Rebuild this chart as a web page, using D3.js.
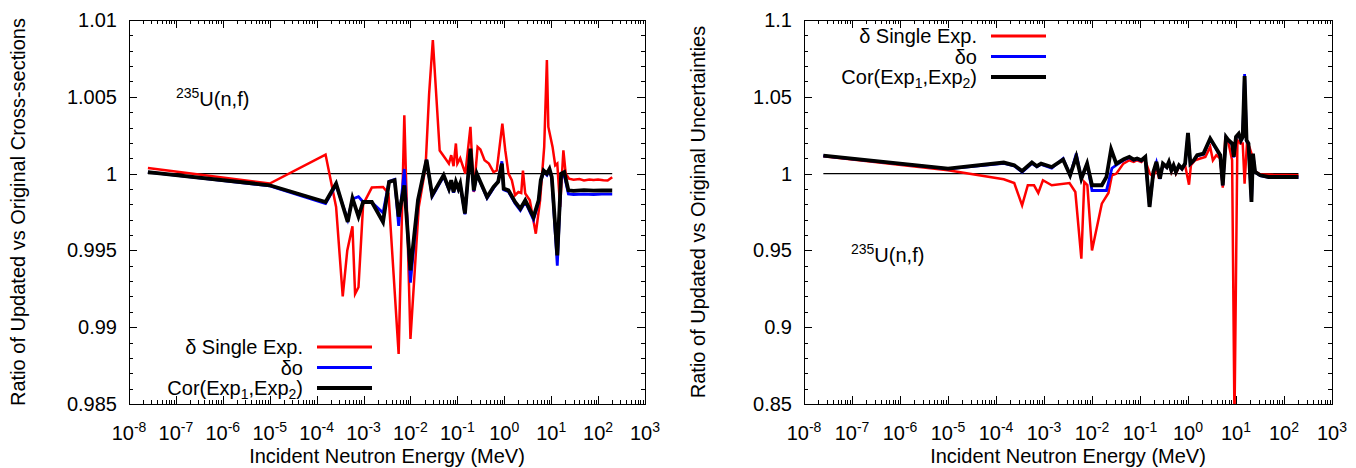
<!DOCTYPE html>
<html>
<head>
<meta charset="utf-8">
<script src="https://cdn.jsdelivr.net/npm/d3@7"></script>
<style>
body { margin: 0; background: #fff; }
svg { font-family: "Liberation Sans", Arial, sans-serif; }
</style>
</head>
<body>
<script>
// energies in MeV, values are ratios
var leftSingle = [[2.53e-8,1.00037],[1.0e-5,0.99935],[1.55e-4,1.00124],[2.6e-4,0.99783],[3.6e-4,0.9920],[4.5e-4,0.9950],[5.8e-4,0.99657],[6.6e-4,0.99217],[7.8e-4,0.9926],[9.8e-4,0.9980],[1.5e-3,0.99909],[2.6e-3,0.99913],[3.4e-3,0.99870],[5.6e-3,0.98826],[7.4e-3,1.0038],[1.0e-2,0.98924],[1.5e-2,0.9978],[2.1e-2,1.00043],[2.5e-2,1.0052],[3.0e-2,1.0087],[4.2e-2,1.0015],[5.5e-2,1.0010],[6.6e-2,1.00065],[7.4e-2,1.0012],[8.3e-2,1.00048],[9.3e-2,1.00196],[0.10,1.00065],[0.115,1.0010],[0.148,1.0],[0.19,1.00304],[0.224,0.9988],[0.27,1.00174],[0.31,1.00157],[0.38,1.00087],[0.47,1.00065],[0.59,1.0001],[0.69,1.0002],[0.91,1.00326],[1.05,1.00152],[1.23,1.0],[1.45,0.99957],[1.7,0.99859],[2.0,0.9988],[2.3,0.99874],[2.5,1.0002],[2.8,0.9987],[3.5,0.99826],[4.7,0.99609],[5.8,0.99826],[7.1,1.00174],[8.1,1.00739],[8.7,1.00304],[10.7,1.00174],[12.2,1.00054],[13.5,1.00065],[15.5,0.99783],[18.2,1.00152],[20.4,1.0],[24,0.99967],[30,0.9996],[40,0.99964],[50,0.99956],[65,0.99962],[80,0.99958],[100,0.99961],[130,0.99957],[160,0.99955],[180,0.99966],[200,0.99976]];
var leftDeltaO = [[2.53e-8,1.0001],[1.0e-5,0.9992],[1.55e-4,0.99805],[2.6e-4,0.99925],[4.6e-4,0.9970],[5.8e-4,0.99835],[7.8e-4,0.9985],[9.8e-4,0.99815],[1.5e-3,0.99812],[2.6e-3,0.99745],[3.5e-3,0.9995],[4.6e-3,0.99962],[5.6e-3,0.9966],[7.4e-3,1.0003],[1.0e-2,0.9929],[1.45e-2,0.9982],[2.2e-2,1.0009],[2.9e-2,0.9985],[5.1e-2,0.9998],[6.6e-2,0.99895],[7.4e-2,0.9995],[8.3e-2,0.99875],[9.3e-2,0.9994],[0.105,0.99895],[0.115,0.9993],[0.145,0.99735],[0.19,1.0015],[0.224,0.99885],[0.26,0.99995],[0.31,0.9994],[0.43,0.9984],[0.59,0.99905],[0.74,0.9995],[0.89,1.0008],[0.97,0.99895],[1.23,0.99882],[1.7,0.99805],[2.2,0.9976],[2.8,0.99815],[4.2,0.997],[5.4,0.99815],[6.0,0.9995],[6.9,1.0001],[8.1,0.9999],[9.2,1.0002],[10.3,0.9997],[13.5,0.9940],[16.3,0.9998],[19,0.9999],[23.3,0.99868],[30,0.99864],[50,0.99866],[80,0.99864],[120,0.99866],[200,0.99866]];
var leftCor = [[2.53e-8,1.0001],[1.0e-5,0.99924],[1.55e-4,0.99815],[2.6e-4,0.99935],[4.6e-4,0.99685],[5.8e-4,0.9984],[7.8e-4,0.9972],[9.8e-4,0.99815],[1.5e-3,0.99815],[2.6e-3,0.99685],[3.5e-3,0.99946],[4.6e-3,0.99957],[5.6e-3,0.9972],[7.4e-3,0.99924],[1.0e-2,0.9937],[1.45e-2,0.9983],[2.2e-2,1.0009],[2.9e-2,0.9986],[5.1e-2,0.9999],[6.6e-2,0.99902],[7.4e-2,0.99957],[8.3e-2,0.9988],[9.3e-2,0.99946],[0.105,0.99902],[0.115,0.99935],[0.145,0.9974],[0.19,1.00163],[0.224,0.99891],[0.26,1.0],[0.31,0.99946],[0.43,0.99848],[0.59,0.99913],[0.74,0.99946],[0.89,1.00065],[0.97,0.99902],[1.23,0.99891],[1.7,0.99815],[2.2,0.99772],[2.8,0.99826],[4.2,0.99717],[5.4,0.99826],[6.0,0.99957],[6.9,1.0002],[8.1,1.0],[9.2,1.0003],[10.3,0.99978],[13.5,0.99467],[16.3,1.0],[19,1.0001],[23.3,0.99891],[30,0.99888],[50,0.99892],[80,0.99889],[120,0.99891],[200,0.9989]];

var rightSingle = [[2.53e-8,1.0113],[1.0e-5,1.0022],[1.45e-4,0.9963],[2.4e-4,0.9939],[3.5e-4,0.9793],[4.6e-4,0.9924],[6.2e-4,0.9924],[7.6e-4,0.9874],[9.5e-4,0.9957],[1.45e-3,0.9924],[3.4e-3,0.9939],[4.5e-3,0.9880],[6.0e-3,0.9446],[6.9e-3,0.9946],[8.0e-3,0.9925],[1.0e-2,0.9500],[1.6e-2,0.9804],[2.2e-2,0.9874],[2.6e-2,0.9989],[3.2e-2,1.0],[4.5e-2,1.0065],[6.0e-2,1.0087],[7.4e-2,1.0076],[8.7e-2,1.0087],[0.107,1.0076],[0.125,1.0098],[0.16,1.0],[0.19,0.9978],[0.22,1.0043],[0.25,0.9967],[0.30,1.0054],[0.36,1.0043],[0.40,1.0065],[0.45,1.0011],[0.50,1.0054],[0.56,1.0],[0.65,1.0043],[0.75,1.0033],[0.87,1.0054],[1.05,0.9928],[1.15,1.0054],[1.4,1.0087],[1.8,1.0098],[2.3,1.0109],[2.9,1.0174],[3.3,1.0087],[3.9,1.012],[4.7,1.0098],[5.3,0.9909],[6.0,1.0243],[7.0,1.0196],[8.3,1.0087],[9.3,0.84],[10.7,1.0217],[12.3,1.0196],[13.8,1.0196],[15.1,0.9935],[17.0,1.0206],[19.0,1.0174],[21,1.013],[23.4,1.002],[32,0.9996],[60,0.9992],[200,0.9989]];
var rightDeltaO = [[2.53e-8,1.0115],[1.0e-5,1.0031],[1.45e-4,1.0066],[2.4e-4,1.005],[3.5e-4,1.001],[5.6e-4,1.0066],[7.1e-4,1.0044],[8.7e-4,1.006],[1.45e-3,1.0035],[2.5e-3,1.0098],[3.5e-3,0.9989],[4.7e-3,1.013],[6.0e-3,0.9967],[7.9e-3,1.0065],[1.0e-2,0.989],[1.6e-2,0.989],[2.0e-2,0.989],[2.6e-2,1.0035],[3.2e-2,1.0055],[4.6e-2,1.0088],[6.0e-2,1.0104],[7.4e-2,1.0087],[8.7e-2,1.0094],[0.107,1.0083],[0.129,1.0105],[0.158,0.9783],[0.19,1.0008],[0.22,1.0072],[0.26,0.9965],[0.30,1.0062],[0.36,1.004],[0.40,1.0072],[0.45,1.002],[0.50,1.005],[0.56,1.0009],[0.65,1.005],[0.75,1.003],[0.87,1.006],[1.0,1.026],[1.12,1.0062],[1.32,1.0084],[1.55,1.0116],[2.1,1.0126],[2.9,1.0224],[3.7,1.017],[4.7,1.0116],[5.3,0.9924],[6.2,1.0236],[7.0,1.0213],[8.3,1.0192],[9.0,1.0105],[10.0,1.0236],[11.4,1.0256],[12.7,1.0213],[13.8,1.0236],[15.1,1.0648],[16.6,1.0213],[18.2,1.0192],[21,0.9815],[22.6,1.0126],[25,1.0009],[32,0.9987],[48,0.9976],[200,0.9976]];
var rightCor = [[2.53e-8,1.0117],[1.0e-5,1.0033],[1.45e-4,1.0072],[2.4e-4,1.0054],[3.5e-4,1.0017],[5.6e-4,1.0072],[7.1e-4,1.0048],[8.7e-4,1.0065],[1.45e-3,1.0043],[2.5e-3,1.0091],[3.5e-3,0.9989],[4.7e-3,1.011],[6.0e-3,0.9967],[7.9e-3,1.0065],[1.0e-2,0.9924],[1.6e-2,0.9924],[2.0e-2,0.9978],[2.5e-2,1.0159],[3.2e-2,1.0065],[4.6e-2,1.0093],[6.0e-2,1.0109],[7.4e-2,1.0091],[8.7e-2,1.0098],[0.107,1.0087],[0.129,1.0109],[0.158,0.9783],[0.19,1.0011],[0.22,1.0076],[0.26,0.9967],[0.30,1.0065],[0.36,1.0043],[0.40,1.0076],[0.45,1.0022],[0.50,1.0054],[0.56,1.0011],[0.65,1.0054],[0.75,1.0033],[0.87,1.0065],[1.0,1.0265],[1.12,1.0065],[1.32,1.0087],[1.55,1.012],[2.1,1.013],[2.9,1.0228],[3.7,1.0174],[4.7,1.012],[5.3,0.9924],[6.2,1.0239],[7.0,1.0217],[8.3,1.0196],[9.0,1.0109],[10.0,1.0239],[11.4,1.026],[12.7,1.0217],[13.8,1.0239],[15.1,1.0635],[16.6,1.0217],[18.2,1.0196],[21,0.9815],[22.6,1.013],[25,1.0011],[32,0.9989],[48,0.9978],[200,0.9978]];

var refRange = [2.53e-8, 200];
var xTickExp = [-8, -7, -6, -5, -4, -3, -2, -1, 0, 1, 2, 3];
var leftYTicks = [0.985, 0.99, 0.995, 1, 1.005, 1.01];
var rightYTicks = [0.85, 0.9, 0.95, 1, 1.05, 1.1];
var seriesNames = ['single', 'deltaO', 'cor'];
var seriesColors = ['#ff0000', '#0000ff', '#000000'];
var seriesWidths = [2.5, 2.8, 3.8];

var W = 1356, H = 468;
var FS = 20, FS_SMALL = 14;
var svg = d3.select('body').append('svg')
	.attr('width', W)
	.attr('height', H)
	.style('background-color', '#fff');

var panels = [
	{id: 'l', left: 129, right: 645, top: 20, bottom: 404, yDomain: [0.985, 1.01], yTicks: leftYTicks, yMinor: 0.001,
	 yTitle: 'Ratio of Updated vs Original Cross-sections', yTitleX: 25,
	 data: [leftSingle, leftDeltaO, leftCor], legX: 303, legY: 347, labX: 176, labY: 106},
	{id: 'r', left: 804, right: 1332, top: 20, bottom: 404, yDomain: [0.85, 1.1], yTicks: rightYTicks, yMinor: 0.01,
	 yTitle: 'Ratio of Updated vs Original Uncertainties', yTitleX: 705,
	 data: [rightSingle, rightDeltaO, rightCor], legX: 977, legY: 36, labX: 851, labY: 262}
];

panels.forEach(drawPanel);

function drawPanel(p) {
	var x = d3.scaleLog().domain([1e-8, 1e3]).range([p.left, p.right]);
	var y = d3.scaleLinear().domain(p.yDomain).range([p.bottom, p.top]);
	var g = svg.append('g');

	g.append('clipPath').attr('id', 'clip-' + p.id)
		.append('rect')
		.attr('x', p.left).attr('y', p.top)
		.attr('width', p.right - p.left).attr('height', p.bottom - p.top);

	// ticks, mirrored on all sides, pointing inward
	var majorX = xTickExp.map(function(e){ return Math.pow(10, e); });
	var minorX = [];
	xTickExp.slice(0, -1).forEach(function(e){
		for (var m = 2; m <= 9; m++) minorX.push(m * Math.pow(10, e));
	});
	var minorY = d3.range(p.yDomain[0], p.yDomain[1] + p.yMinor / 2, p.yMinor);

	var ticks = g.append('g').attr('stroke', '#000').attr('stroke-width', 1);
	majorX.forEach(function(v){
		var xx = Math.round(x(v)) + 0.5;
		ticks.append('line').attr('x1', xx).attr('x2', xx).attr('y1', p.bottom).attr('y2', p.bottom - 8);
		ticks.append('line').attr('x1', xx).attr('x2', xx).attr('y1', p.top).attr('y2', p.top + 8);
	});
	minorX.forEach(function(v){
		var xx = Math.round(x(v)) + 0.5;
		ticks.append('line').attr('x1', xx).attr('x2', xx).attr('y1', p.bottom).attr('y2', p.bottom - 4);
		ticks.append('line').attr('x1', xx).attr('x2', xx).attr('y1', p.top).attr('y2', p.top + 4);
	});
	minorY.forEach(function(v){
		var yy = Math.round(y(v)) + 0.5;
		ticks.append('line').attr('x1', p.left).attr('x2', p.left + 4).attr('y1', yy).attr('y2', yy);
		ticks.append('line').attr('x1', p.right).attr('x2', p.right - 4).attr('y1', yy).attr('y2', yy);
	});
	p.yTicks.forEach(function(v){
		var yy = Math.round(y(v)) + 0.5;
		ticks.append('line').attr('x1', p.left).attr('x2', p.left + 8).attr('y1', yy).attr('y2', yy);
		ticks.append('line').attr('x1', p.right).attr('x2', p.right - 8).attr('y1', yy).attr('y2', yy);
	});

	// y tick labels
	g.selectAll('.ylab').data(p.yTicks).enter().append('text')
		.attr('x', p.left - 12)
		.attr('y', function(d){ return y(d) + 7; })
		.attr('text-anchor', 'end')
		.attr('font-size', FS)
		.text(function(d){ return String(d); });

	// x tick labels 10^n
	xTickExp.forEach(function(e){
		var t = g.append('text')
			.attr('x', x(Math.pow(10, e)))
			.attr('y', p.bottom + 36)
			.attr('text-anchor', 'middle')
			.attr('font-size', FS);
		t.append('tspan').text('10');
		t.append('tspan').attr('font-size', FS_SMALL).attr('dy', -8).text(String(e));
	});

	// axis titles
	g.append('text')
		.attr('x', (p.left + p.right) / 2)
		.attr('y', 463)
		.attr('text-anchor', 'middle')
		.attr('font-size', FS)
		.text('Incident Neutron Energy (MeV)');
	g.append('text')
		.attr('transform', 'translate(' + p.yTitleX + ',' + ((p.top + p.bottom) / 2) + ') rotate(-90)')
		.attr('text-anchor', 'middle')
		.attr('font-size', FS)
		.text(p.yTitle);

	// reference line at 1
	g.append('line')
		.attr('x1', x(refRange[0])).attr('x2', x(refRange[1]))
		.attr('y1', y(1)).attr('y2', y(1))
		.attr('stroke', '#000').attr('stroke-width', 1.4);

	// series
	var line = d3.line()
		.x(function(d){ return x(d[0]); })
		.y(function(d){ return y(d[1]); });
	var lines = g.append('g').attr('clip-path', 'url(#clip-' + p.id + ')');
	p.data.forEach(function(s, i){
		lines.append('path')
			.datum(s)
			.attr('class', seriesNames[i])
			.attr('fill', 'none')
			.attr('stroke', seriesColors[i])
			.attr('stroke-width', seriesWidths[i])
			.attr('stroke-linejoin', 'miter')
			.attr('d', line);
	});

	// frame
	g.append('rect')
		.attr('x', p.left + 0.5).attr('y', p.top + 0.5)
		.attr('width', p.right - p.left).attr('height', p.bottom - p.top)
		.attr('fill', 'none').attr('stroke', '#000').attr('stroke-width', 1);

	// reaction label
	var lab = g.append('text').attr('x', p.labX).attr('y', p.labY).attr('font-size', FS);
	lab.append('tspan').attr('font-size', FS_SMALL).attr('dy', -8).text('235');
	lab.append('tspan').attr('dy', 8).text('U(n,f)');

	// legend
	var legRows = [
		function(t){ t.append('tspan').text('\u03b4 Single Exp.'); },
		function(t){ t.append('tspan').text('\u03b4o'); },
		function(t){
			t.append('tspan').text('Cor(Exp');
			t.append('tspan').attr('font-size', FS_SMALL).attr('dy', 4).text('1');
			t.append('tspan').attr('dy', -4).text(',Exp');
			t.append('tspan').attr('font-size', FS_SMALL).attr('dy', 4).text('2');
			t.append('tspan').attr('dy', -4).text(')');
		}
	];
	legRows.forEach(function(fn, i){
		var ly = p.legY + i * 20.5;
		var t = g.append('text')
			.attr('x', p.legX)
			.attr('y', ly + 7)
			.attr('text-anchor', 'end')
			.attr('font-size', FS);
		fn(t);
		g.append('line')
			.attr('x1', p.legX + 14).attr('x2', p.legX + 69)
			.attr('y1', ly).attr('y2', ly)
			.attr('stroke', seriesColors[i])
			.attr('stroke-width', i == 2 ? 4.2 : 2.8);
	});
}
</script>
</body>
</html>
